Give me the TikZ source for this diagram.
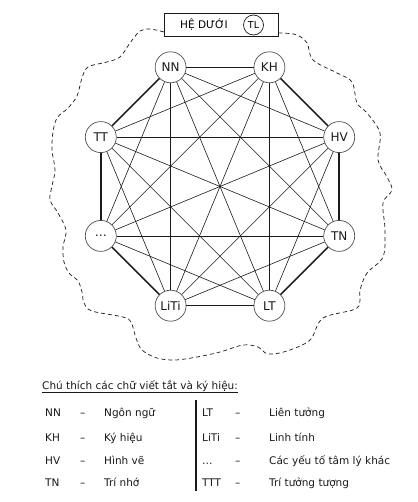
\documentclass[tikz,border=0pt]{standalone}
\usepackage{fontspec}
\setmainfont{DejaVu Sans}
\usetikzlibrary{positioning}
\definecolor{heInk}{HTML}{1A1A1A}
\definecolor{heRing}{HTML}{505050}

\begin{document}
\begin{tikzpicture}[
  x=1pt, y=-1pt,
  font=\fontsize{10.5}{12}\selectfont,
  vertex/.style={circle, draw=heRing, line width=.7pt, fill=white, minimum size=31pt, inner sep=0pt, text=heInk,
                 font=\fontsize{12}{12}\selectfont},
  link/.style={draw=heInk, line width=.6pt},
  rim/.style={draw=heInk, line width=1.5pt},
  boundary/.style={draw=heInk, line width=.7pt, dash pattern=on 4pt off 3pt},
  titlebox/.style={draw=heInk, line width=.7pt, fill=white, minimum width=114pt, minimum height=23pt, inner sep=0pt},
  tag/.style={circle, draw=heInk, line width=.7pt, minimum size=20pt, inner sep=0pt, font=\fontsize{9.5}{10}\selectfont},
  entry/.style={anchor=base west, inner sep=0pt, text=heInk}
]
  \useasboundingbox[fill=white] (0,0) rectangle (417,502);

  % upper system boundary
  \draw[boundary] plot[smooth, tension=.55] coordinates {
    (164,32) (150,29) (140,31) (130,43) (120,57) (107,62) (88,67) (82,78) (77,96) (68,108)
    (57,118) (53,132) (52,150) (55,170) (52,186) (50,200) (58,213) (66,230) (63,247) (64,262)
    (69,273) (78,281) (82,292) (84,303) (92,311) (123,317) (131,322) (136,338) (142,350) (157,358)
    (175,360) (197,357) (220,352) (243,345) (258,347) (268,354) (287,351) (310,340) (323,318) (357,308)
    (360,290) (367,273) (383,257) (385,230) (383,203) (392,190) (387,177) (378,160) (380,133) (367,113)
    (357,103) (352,82) (337,73) (313,60) (307,43) (297,35) (283,33) (278,33)};

  \node[titlebox] (title) at (221,24.5) {};
  \node[font=\fontsize{10.5}{12}\selectfont] (hedu) at (204,24.5) {HỆ DƯỚI};
  \node[tag] (tl) at (253.5,25) {TL};

  % octagon of components
  \foreach \name/\lbl/\px/\py in {nn/NN/170.6/67.3, kh/KH/269.4/67.3, hv/HV/339.2/137.1, tn/TN/339.2/235.9,
                                  lt/LT/269.4/305.7, liti/LiTi/170.6/305.7, etc/{\ldots}/100.8/235.9, tt/TT/100.8/137.1}
    \node[vertex] (\name) at (\px,\py) {\lbl};

  \foreach \u [count=\i] in {nn,kh,hv,tn,lt,liti,etc,tt} {
    \foreach \v [count=\j] in {nn,kh,hv,tn,lt,liti,etc,tt} {
      \ifnum\j>\i \draw[link] (\u) -- (\v); \fi
    }
  }
  \foreach \u/\v in {nn/kh, kh/hv, hv/tn, tn/lt, lt/liti, liti/etc, etc/tt, tt/nn}
    \draw[rim] (\u) -- (\v);

  % legend
  \node[entry] (legendhead) at (42,389) {\underline{Chú thích các chữ viết tắt và ký hiệu:}};
  \foreach \abbr/\gloss/\py in {NN/Ngôn ngữ/416, KH/Ký hiệu/441, HV/Hình vẽ/464, TN/Trí nhớ/486} {
    \node[entry] at (45,\py) {\abbr};
    \node[entry] at (80,\py) {–};
    \node[entry] at (104,\py) {\gloss};
  }
  \foreach \abbr/\gloss/\py in {LT/Liên tưởng/416, LiTi/Linh tính/441, {\ldots}/Các yếu tố tâm lý khác/464, TTT/Trí tưởng tượng/486} {
    \node[entry] at (202,\py) {\abbr};
    \node[entry] at (235,\py) {–};
    \node[entry] at (269,\py) {\gloss};
  }
  \coordinate (bartop) at (196,400);
  \coordinate (barbot) at (196,491);
  \draw[heInk, line width=1.8pt] (bartop) -- (barbot);
\end{tikzpicture}
\end{document}
